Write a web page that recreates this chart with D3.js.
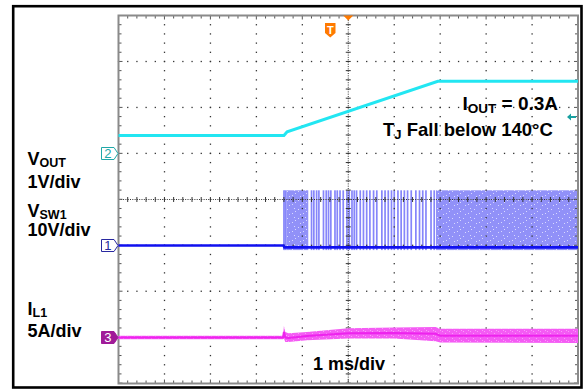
<!DOCTYPE html>
<html><head><meta charset="utf-8">
<script src="https://cdn.jsdelivr.net/npm/d3@7"></script>
<style>
body{margin:0;background:#fff}
svg{display:block}
text{font-family:"Liberation Sans",Arial,sans-serif;font-weight:bold}
</style>
</head><body>
<svg id="c" width="586" height="389"></svg>
<script>
// ---- data ----
// time axis: 1 ms/div, trigger at centre
const timeDomain = [-5, 5];
const divDomain = [-4, 4];
// VOUT: channel 2, 1 V/div, ground marker at +1 div
const voutT = [-5, -1.40, -1.33, 1.95, 5];
const voutV = [0.39, 0.39, 0.47, 1.57, 1.57];
// VSW1: channel 1, 10 V/div, ground marker at -1 div
const swT = [-5, -1.41, -1.39, 5];
const swV = [0, 0, -0.4, -0.4];
const swHigh = 12;
const swLow = -1;
const swDense = [[-1.35, -0.87], [1.91, 5]];
const swPulses = [-1.40, -1.37, -0.80, -0.75, -0.69, -0.64, -0.54, -0.48, -0.43, -0.38, -0.29, -0.24,
  -0.18, -0.11, -0.03, 0.02, 0.08, 0.13, 0.18, 0.26, 0.33, 0.40, 0.47, 0.55, 0.62, 0.73,
  0.80, 0.87, 0.94, 1.00, 1.08, 1.15, 1.22, 1.29, 1.37, 1.47, 1.55, 1.62, 1.69, 1.80, 1.87];
// IL1: channel 3, 5 A/div, ground marker at -3 div
const ilT  = [-5,   -1.42, -1.40, -1.37, -1.30, -0.9, 0,    1.0,  1.9,  2.0,  5];
const ilLo = [-0.2, -0.2,  -0.1,  -0.5,  -0.5,  -0.3, -0.1, -0.1, -0.4, -0.55, -0.6];
const ilHi = [0.2,  0.2,   1.25,  0.6,   0.45,  0.6,  1.0,  1.1,  1.15, 0.95, 0.95];
const ilMid = [0, 0, 0.6, 0.0, -0.05, 0.15, 0.45, 0.5, 0.4, 0.2, 0.2];

const chOffset = {ch1: -1, ch2: 1, ch3: -3};
const chScale = {ch1: 10, ch2: 1, ch3: 5};

// ---- layout ----
const svg = d3.select("#c");
const X0 = 118.5, X1 = 578, Y0 = 15.5, Y1 = 383.5;
const x = d3.scaleLinear().domain(timeDomain).range([X0, X1]);
const y = d3.scaleLinear().domain(divDomain).range([Y1, Y0]);
const yc = ch => v => y(chOffset[ch] + v / chScale[ch]);
const y1 = yc("ch1"), y2 = yc("ch2"), y3 = yc("ch3");

// speckle pattern for dense switching region
const defs = svg.append("defs");
const pat = defs.append("pattern").attr("id", "spk").attr("patternUnits", "userSpaceOnUse")
  .attr("width", 11).attr("height", 9);
pat.append("rect").attr("width", 11).attr("height", 9).attr("fill", "#9191f8");
[[1, 2], [6, 6], [8, 1], [3, 7], [9, 4]].forEach(p =>
  pat.append("rect").attr("x", p[0]).attr("y", p[1]).attr("width", 1).attr("height", 1).attr("fill", "#d8d8ff"));
const patI = defs.append("pattern").attr("id", "ispk").attr("patternUnits", "userSpaceOnUse")
  .attr("width", 7).attr("height", 5);
patI.append("rect").attr("width", 7).attr("height", 5).attr("fill", "#f45cf4");
[[1, 1], [4, 3], [6, 0]].forEach(p =>
  patI.append("rect").attr("x", p[0]).attr("y", p[1]).attr("width", 1).attr("height", 1).attr("fill", "#fb9afb"));

svg.append("rect").attr("width", 586).attr("height", 389).attr("fill", "#fff");
svg.append("rect").attr("x", 13.2).attr("y", 6.2).attr("width", 568.3).attr("height", 381.3)
  .attr("fill", "none").attr("stroke", "#000").attr("stroke-width", 2.6);

// ---- VSW1 pulses (under grid) ----
const gSw = svg.append("g");
gSw.selectAll("rect.d").data(swDense).join("rect")
  .attr("x", d => x(d[0])).attr("width", d => x(d[1]) - x(d[0]))
  .attr("y", y1(swHigh)).attr("height", y1(swLow) - y1(swHigh))
  .attr("fill", "url(#spk)");
gSw.selectAll("rect.p").data(swPulses).join("rect")
  .attr("x", d => x(d) - 0.8).attr("width", 1.7)
  .attr("y", y1(swHigh)).attr("height", y1(swLow) - y1(swHigh))
  .attr("fill", "#8686fa");

// ---- grid ----
const gGrid = svg.append("g");
const div = (X1 - X0) / 10, minor = div / 5;
const minorX = d3.range(0, 51).map(i => X0 + i * minor);
const minorY = d3.range(0, 41).map(i => Y0 + i * minor);
for (let k = 1; k < 10; k++) {
  if (k === 5) continue;
  const gx = X0 + k * div;
  minorY.forEach(py => gGrid.append("rect").attr("x", gx - 0.6).attr("y", py - 0.6)
    .attr("width", 1.3).attr("height", 1.3).attr("fill", "#333"));
}
for (let k = 1; k < 8; k++) {
  if (k === 4) continue;
  const gy = Y0 + k * div;
  minorX.forEach(px => gGrid.append("rect").attr("x", px - 0.6).attr("y", gy - 0.6)
    .attr("width", 1.3).attr("height", 1.3).attr("fill", "#333"));
}
// centre lines
const cx = x(0), cy = y(0);
gGrid.append("line").attr("x1", X0).attr("x2", X1).attr("y1", cy).attr("y2", cy)
  .attr("stroke", "#333").attr("stroke-width", 1).attr("stroke-dasharray", "1,1.3");
gGrid.append("line").attr("y1", Y0).attr("y2", Y1).attr("x1", cx).attr("x2", cx)
  .attr("stroke", "#333").attr("stroke-width", 1).attr("stroke-dasharray", "1,1.3");
minorX.forEach(px => gGrid.append("line").attr("x1", px).attr("x2", px).attr("y1", cy - 2.5).attr("y2", cy + 2.5)
  .attr("stroke", "#333").attr("stroke-width", 1));
minorY.forEach(py => gGrid.append("line").attr("y1", py).attr("y2", py).attr("x1", cx - 2.5).attr("x2", cx + 2.5)
  .attr("stroke", "#333").attr("stroke-width", 1));
// frame ticks
minorX.forEach((px, i) => {
  const L = i % 5 === 0 ? 4 : 3;
  gGrid.append("line").attr("x1", px).attr("x2", px).attr("y1", Y0).attr("y2", Y0 + L).attr("stroke", "#555");
  gGrid.append("line").attr("x1", px).attr("x2", px).attr("y1", Y1).attr("y2", Y1 - L).attr("stroke", "#555");
});
minorY.forEach((py, i) => {
  const L = i % 5 === 0 ? 4 : 3;
  gGrid.append("line").attr("y1", py).attr("y2", py).attr("x1", X0).attr("x2", X0 + L).attr("stroke", "#555");
  gGrid.append("line").attr("y1", py).attr("y2", py).attr("x1", X1).attr("x2", X1 - L).attr("stroke", "#555");
});
gGrid.append("rect").attr("x", X0).attr("y", Y0).attr("width", X1 - X0).attr("height", Y1 - Y0)
  .attr("fill", "none").attr("stroke", "#8a8a8a").attr("stroke-width", 2);

// ---- traces ----
const line = (ys) => d3.line().x(d => x(d[0])).y(d => ys(d[1]));
svg.append("path").datum(swT.map((t, i) => [t, swV[i]]))
  .attr("d", line(y1)).attr("fill", "none").attr("stroke", "#1010f0").attr("stroke-width", 2.6);

svg.append("path").datum(voutT.map((t, i) => [t, voutV[i]]))
  .attr("d", line(y2)).attr("fill", "none").attr("stroke", "#22e6f2").attr("stroke-width", 3);

const ilData = ilT.map((t, i) => ({t, lo: ilLo[i], hi: ilHi[i], mid: ilMid[i]}));
svg.append("path").datum(ilData)
  .attr("d", d3.area().x(d => x(d.t)).y0(d => y3(d.lo)).y1(d => y3(d.hi)))
  .attr("fill", "url(#ispk)");
svg.append("path").datum(ilData)
  .attr("d", d3.line().x(d => x(d.t)).y(d => y3(d.mid)))
  .attr("fill", "none").attr("stroke", "#ee22ee").attr("stroke-width", 2);

// ---- channel markers ----
function marker(ch, label, stroke, fill, tcol) {
  const my = y(chOffset[ch]);
  const mx = 101.5;
  svg.append("path")
    .attr("d", `M${mx},${my - 6}H${mx + 12.5}L${X0 - 0.5},${my}L${mx + 12.5},${my + 6}H${mx}Z`)
    .attr("fill", fill).attr("stroke", stroke).attr("stroke-width", 1);
  svg.append("text").attr("x", mx + 6.3).attr("y", my + 4.8).attr("text-anchor", "middle")
    .attr("font-size", 13).style("font-weight", "normal").attr("fill", tcol).text(label);
}
marker("ch2", "2", "#20a8a8", "#fff", "#20a8a8");
marker("ch1", "1", "#2828a0", "#fff", "#2828a0");
marker("ch3", "3", "#a01a98", "#a01a98", "#fff");

// trigger markers
svg.append("path").attr("d", `M${cx - 5},${Y0}H${cx + 5}L${cx},${Y0 + 5}Z`).attr("fill", "#ff7a00");
svg.append("path").attr("d", "M325,23H335.5V33L330.25,37.5L325,33Z").attr("fill", "#ff7a00");
svg.append("text").attr("x", 330.3).attr("y", 33.5).attr("text-anchor", "middle")
  .attr("font-size", 11).attr("fill", "#fff").text("T");
// right-side ch2 arrow
svg.append("path").attr("d", "M567,117L571,113.5V116H576V118H571V120.5Z").attr("fill", "#18a0a0");

// ---- labels ----
function sub(xp, yp, main, s, fs, sfs, after, dy) {
  const d = dy || 2;
  const t = svg.append("text").attr("x", xp).attr("y", yp).attr("font-size", fs).attr("fill", "#000");
  t.append("tspan").text(main);
  t.append("tspan").attr("font-size", sfs).attr("dy", d).text(s);
  if (after) t.append("tspan").attr("dy", -d).text(after);
}
sub(27.5, 165, "V", "OUT", 18, 12.5);
svg.append("text").attr("x", 27.5).attr("y", 188).attr("font-size", 18).text("1V/div");
sub(27.5, 217, "V", "SW1", 18, 12.5, null, 1.5);
svg.append("text").attr("x", 27.5).attr("y", 235.5).attr("font-size", 18).text("10V/div");
sub(27.5, 315, "I", "L1", 18, 12.5);
svg.append("text").attr("x", 27.5).attr("y", 337).attr("font-size", 18).text("5A/div");
sub(462.5, 110, "I", "OUT", 19, 13.5, " = 0.3A", 2.5);
sub(383, 136, "T", "J", 18.5, 13, " Fall below 140°C", 3);
svg.append("text").attr("x", 313).attr("y", 370).attr("font-size", 18).text("1 ms/div");
</script>
</body></html>
